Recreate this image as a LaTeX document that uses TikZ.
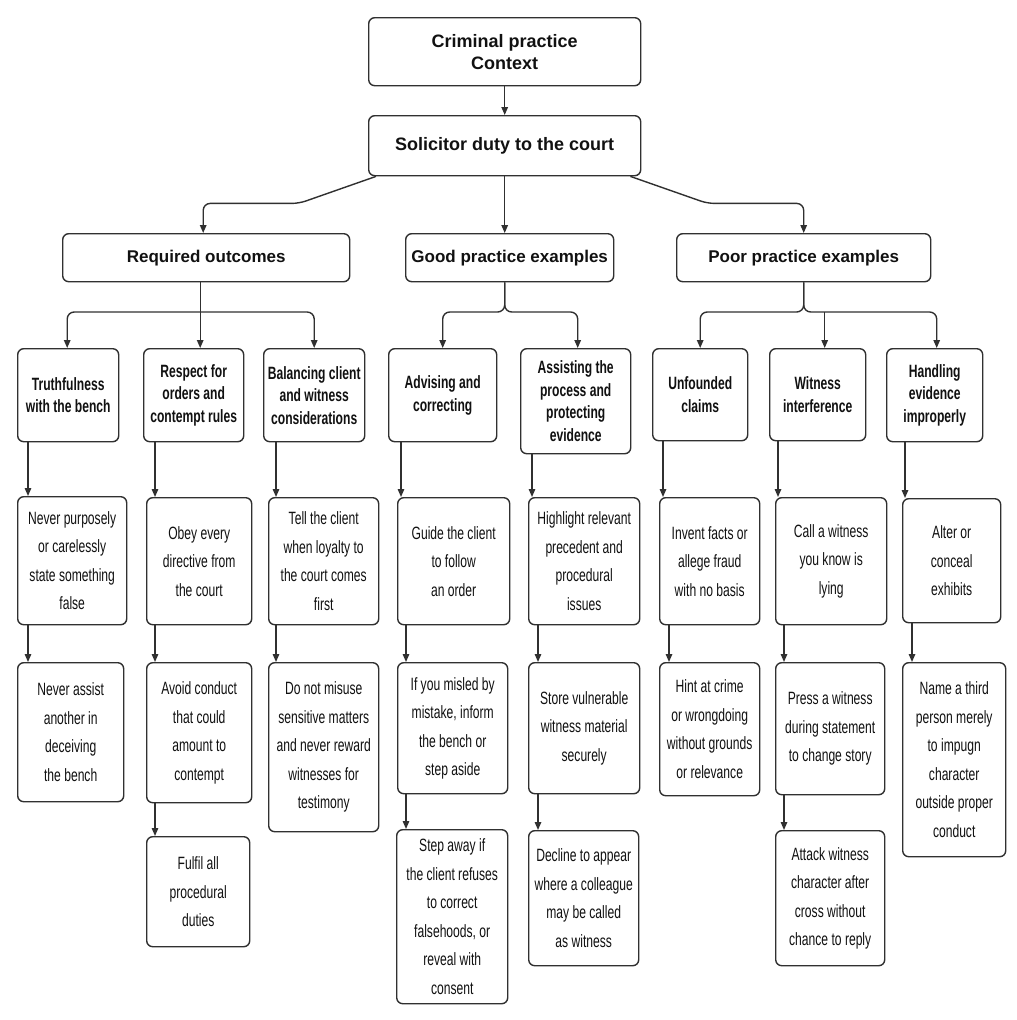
\documentclass[tikz,border=0pt]{standalone}
\usepackage{fontspec}
\setmainfont{Liberation Sans}
\newfontfamily\condfont{Liberation Sans}[FakeStretch=0.68]
\usetikzlibrary{arrows.meta,calc}
\definecolor{lc}{HTML}{303030}
\definecolor{tc}{HTML}{111111}
\newcommand\dn[3]{\path ([xshift=#3]#1.south west) coordinate (tmp); \draw[arr] (tmp) -- (tmp |- #2.north);}
\begin{document}
\begin{tikzpicture}[x=1pt,y=1pt,
  box/.style={draw=lc, line width=1.4pt, rounded corners=6pt, fill=white, align=center, inner sep=0pt, anchor=north west, text=tc},
  wh/.style 2 args={minimum width=#1pt, minimum height=#2pt},
  hdr/.style={box, font=\bfseries\fontsize{18}{22}\selectfont},
  sub/.style={box, font=\bfseries\fontsize{17}{22}\selectfont},
  cat/.style={box, font=\condfont\bfseries\fontsize{17.8}{22.5}\selectfont},
  leaf/.style={box, font=\condfont\fontsize{17.8}{28.5}\selectfont},
  arr/.style={draw=lc, line width=1.4pt, -{Triangle[length=8pt,width=6.5pt]}}
]
\useasboundingbox (0,0) rectangle (1017,-1020);
\fill[white] (0,0) rectangle (1017,-1020);

% top levels
\node[hdr, wh={272}{68}] (ctx) at (368,-17) {Criminal practice\\Context};
\node[hdr, wh={272}{60}] (sol) at (368,-115) {Solicitor duty to the court};
\node[sub, wh={287}{48}] (req) at (62,-233) {Required outcomes};
\node[sub, wh={208}{48}] (good) at (405,-233) {Good practice examples};
\node[sub, wh={254}{48}] (poor) at (676,-233) {Poor practice examples};

% level 3
\node[cat, wh={101}{93}] (truth) at (17,-348) {Truthfulness\\with the bench};
\node[cat, wh={100}{93}] (respect) at (143,-348) {Respect for\\orders and\\contempt rules};
\node[cat, wh={101}{93}] (balance) at (263,-348) {Balancing client\\and witness\\considerations};
\node[cat, wh={108}{93}] (advise) at (388,-348) {Advising and\\correcting};
\node[cat, wh={110}{105}] (assist) at (520,-348) {Assisting the\\process and\\protecting\\evidence};
\node[cat, wh={95}{92}] (unfound) at (652,-348) {Unfounded\\claims};
\node[cat, wh={96}{92}] (witint) at (769,-348) {Witness\\interference};
\node[cat, wh={96}{93}] (handle) at (886,-348) {Handling\\evidence\\improperly};

% level 4
\node[leaf, wh={109}{128}] (npurp) at (17,-496) {Never purposely\\or carelessly\\state something\\false};
\node[leaf, wh={105}{127}] (obey) at (146,-497) {Obey every\\directive from\\the court};
\node[leaf, wh={110}{127}] (tell) at (268,-497) {Tell the client\\when loyalty to\\the court comes\\first};
\node[leaf, wh={112}{127}] (guide) at (397,-497) {Guide the client\\to follow\\an order};
\node[leaf, wh={111}{127}] (highlight) at (528,-497) {Highlight relevant\\precedent and\\procedural\\issues};
\node[leaf, wh={100}{127}] (invent) at (659,-497) {Invent facts or\\allege fraud\\with no basis};
\node[leaf, wh={111}{127}] (call) at (775,-497) {Call a witness\\you know is\\lying};
\node[leaf, wh={98}{124}] (alter) at (902,-498) {Alter or\\conceal\\exhibits};

% level 5
\node[leaf, wh={106}{139}] (nassist) at (17,-662) {Never assist\\another in\\deceiving\\the bench};
\node[leaf, wh={105}{140}] (avoid) at (146,-662) {Avoid conduct\\that could\\amount to\\contempt};
\node[leaf, wh={110}{169}] (misuse) at (268,-662) {Do not misuse\\sensitive matters\\and never reward\\witnesses for\\testimony};
\node[leaf, wh={110}{131}] (misled) at (397,-662) {If you misled by\\mistake, inform\\the bench or\\step aside};
\node[leaf, wh={111}{131}] (store) at (528,-662) {Store vulnerable\\witness material\\securely};
\node[leaf, wh={100}{133}] (hint) at (659,-662) {Hint at crime\\or wrongdoing\\without grounds\\or relevance};
\node[leaf, wh={109}{132}] (press) at (775,-662) {Press a witness\\during statement\\to change story};
\node[leaf, wh={103}{194}] (third) at (902,-662) {Name a third\\person merely\\to impugn\\character\\outside proper\\conduct};

% level 6
\node[leaf, wh={103}{110}] (fulfil) at (146,-836) {Fulfil all\\procedural\\duties};
\node[leaf, wh={111}{174}] (stepaway) at (396,-829) {Step away if\\the client refuses\\to correct\\falsehoods, or\\reveal with\\consent};
\node[leaf, wh={110}{135}] (decline) at (528,-830) {Decline to appear\\where a colleague\\may be called\\as witness};
\node[leaf, wh={109}{135}] (attack) at (775,-830) {Attack witness\\character after\\cross without\\chance to reply};

% connectors top
\draw[arr] (ctx) -- (sol);
\draw[arr, rounded corners=7pt] ([xshift=8pt]sol.south west) -- ++(-77,-27) -| ([xshift=-3pt]req.north);
\draw[arr] (sol.south) -- (sol.south |- good.north);
\draw[arr, rounded corners=7pt] ([xshift=-11pt]sol.south east) -- ++(77,-27) -| (poor.north);

\coordinate (bar) at (0,-312);
% required
\path ([xshift=-6pt]req.south) coordinate (rq);
\draw[arr] (rq) -- (rq |- respect.north);
\draw[arr, rounded corners=7pt] (rq |- bar) -| ([xshift=-1pt]truth.north);
\draw[arr, rounded corners=7pt] (rq |- bar) -| (balance.north);
% good
\path ([xshift=-5pt]good.south) coordinate (gq);
\draw[arr, rounded corners=7pt] (gq) -- (gq |- bar) -| (advise.north);
\draw[arr, rounded corners=7pt] (gq) -- (gq |- bar) -| ([xshift=2pt]assist.north);
% poor
\draw[arr, rounded corners=7pt] (poor.south) -- (poor.south |- bar) -| (unfound.north);
\draw[arr, rounded corners=7pt] (poor.south) -- (poor.south |- bar) -| ([xshift=2pt]handle.north);
\path ([xshift=7pt]witint.north) coordinate (wq);
\draw[arr] (wq |- bar) -- (wq);

% level 3 -> 4
\dn{truth}{npurp}{11pt}
\dn{respect}{obey}{12pt}
\dn{balance}{tell}{13pt}
\dn{advise}{guide}{13pt}
\dn{assist}{highlight}{12pt}
\dn{unfound}{invent}{11pt}
\dn{witint}{call}{9pt}
\dn{handle}{alter}{19pt}
% level 4 -> 5
\dn{npurp}{nassist}{11pt}
\dn{obey}{avoid}{9pt}
\dn{tell}{misuse}{8pt}
\dn{guide}{misled}{9pt}
\dn{highlight}{store}{10pt}
\dn{invent}{hint}{10pt}
\dn{call}{press}{9pt}
\dn{alter}{third}{10pt}
% level 5 -> 6
\dn{avoid}{fulfil}{9pt}
\dn{misled}{stepaway}{9pt}
\dn{store}{decline}{10pt}
\dn{press}{attack}{9pt}
\end{tikzpicture}
\end{document}
